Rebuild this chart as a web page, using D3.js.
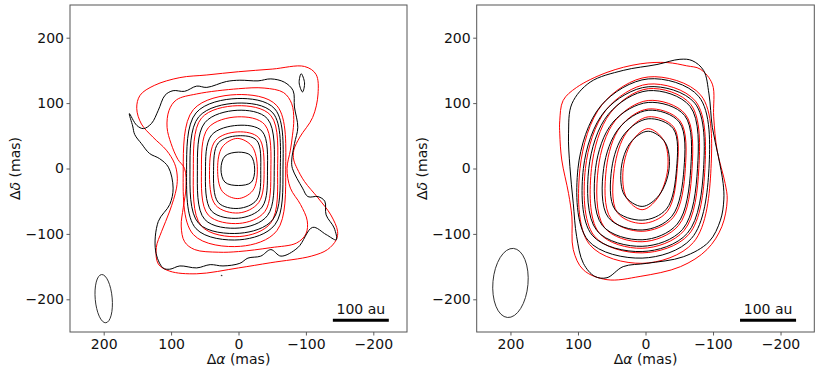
<!DOCTYPE html>
<html>
<head>
<meta charset="utf-8">
<script src="https://cdn.jsdelivr.net/npm/d3@7"></script>
<style>
  body { margin: 0; background: #fff; }
  svg { font-family: 'DejaVu Sans', sans-serif; }
</style>
</head>
<body>
<div id="chart"></div>
<script>
// axis ticks (mas)
const xTicks = [200, 100, 0, -100, -200]
const yTicks = [-200, -100, 0, 100, 200]

// ---- left panel: contours as [dRA, dDec] in mas ----
const leftBlack = [
  [[26,-1],[20,19],[0,25],[-18,20],[-24,-1],[-19,-21],[0,-26],[20,-21]],
  [[37,-3],[30,39],[1,50],[-27,43],[-33,-3],[-27,-48],[0,-61],[30,-52]],
  [[49,-4],[40,51],[1,66],[-35,57],[-43,-4],[-35,-59],[0,-76],[40,-65]],
  [[61,-3],[50,70],[2,89],[-43,76],[-53,-3],[-43,-72],[-1,-91],[50,-78]],
  [[72,-2],[59,79],[2,100],[-51,85],[-62,-2],[-51,-78],[-2,-99],[59,-84]],
  [[77,-2],[63,85],[2,107],[-54,91],[-66,-2],[-54,-86],[-2,-109],[63,-92]],
  [[-2,135],[18,133],[47,124],[62,126],[80,118],[97,119],[109,112],[119,89],[129,69],[141,61],[151,66],[162,84],
   [157,65],[154,52],[144,38],[132,23],[117,15],[104,2],[97,-30],[102,-55],[119,-81],[123,-126],[112,-152],[102,-154],
   [87,-149],[62,-152],[42,-147],[23,-149],[-2,-145],[-14,-137],[-33,-134],[-48,-124],[-63,-134],[-88,-121],
   [-110,-90],[-130,-101],[-145,-109],[-142,-91],[-130,-71],[-128,-50],[-118,-43],[-103,-43],[-95,-30],[-80,0],
   [-79,13],[-83,38],[-88,63],[-83,94],[-81,119],[-68,132],[-48,137],[-29,134]],
  [[-90,131],[-93,145],[-98,131],[-95,117]],
  [[25.5,-163.5],[25,-164.5],[24.5,-163.5]]
]
const leftRed = [
  [[31,0],[24,33],[2,46],[-20,34],[-28,-1],[-21,-34],[1,-46],[24,-35]],
  [[43,-3],[34,43],[1,56],[-30,47],[-38,-3],[-30,-52],[0,-68],[34,-56]],
  [[55,-3],[45,62],[1,79],[-39,67],[-48,-3],[-39,-66],[-1,-84],[45,-71]],
  [[67,-3],[55,77],[2,96],[-48,81],[-58,-3],[-48,-83],[-2,-104],[55,-88]],
  [[82,-2],[67,90],[3,113],[-57,96],[-70,-2],[-57,-95],[-3,-119],[67,-101]],
  [[80,0],[78,-30],[82,-60],[85,-88],[80,-112],[65,-124],[30,-128],[0,-127],[-48,-121],[-86,-114],[-100,-100],
   [-102,-80],[-92,-55],[-77,-30],[-72,0],[-77,28],[-80,50],[-82,75],[-79,99],[-67,116],[-38,123],[0,122],
   [62,114],[92,105],[103,89],[106,63],[100,38],[90,14]],
  [[0,148],[47,143],[87,139],[125,127],[146,112],[151,92],[144,68],[127,48],[107,28],[95,8],[91,-10],[92,-30],
   [102,-65],[114,-96],[122,-121],[119,-146],[102,-157],[62,-161],[0,-152],[-48,-144],[-108,-134],[-132,-124],
   [-145,-109],[-147,-96],[-137,-71],[-118,-45],[-98,-20],[-87,0],[-82,13],[-82,28],[-91,48],[-110,78],
   [-118,114],[-115,144],[-98,156],[-50,152]]
]

// ---- right panel ----
const rightBlack = [
  [[36,0],[22,40],[-4,57],[-29,40],[-35,0],[-20,-41],[5,-58],[31,-41]],
  [[50,0],[31,53],[-4,76],[-41,61],[-46,0],[-31,-62],[5,-79],[45,-63]],
  [[62,0],[39,62],[-4,89],[-50,71],[-57,0],[-39,-73],[5,-94],[55,-75]],
  [[74,0],[48,71],[-4,101],[-58,81],[-67,0],[-47,-85],[5,-109],[64,-87]],
  [[84,0],[55,83],[-4,119],[-66,95],[-77,0],[-55,-93],[5,-119],[72,-95]],
  [[92,0],[60,88],[-4,125],[-73,100],[-86,0],[-62,-99],[5,-127],[79,-102]],
  [[100,0],[66,96],[-4,137],[-79,110],[-94,0],[-68,-107],[5,-137],[85,-110]],
  [[114,53],[109,99],[82,132],[33,150],[-17,159],[-51,167],[-69,165],[-86,150],[-94,114],[-99,63],[-108,18],
   [-115,-23],[-116,-48],[-111,-79],[-94,-112],[-56,-135],[-2,-145],[33,-150],[57,-167],[75,-165],[92,-145],
   [102,-104],[107,-53],[112,3]]
]
const rightRed = [
  [[33,0],[19,43],[-4,61],[-27,43],[-33,0],[-18,-45],[5,-63],[28,-45]],
  [[46,0],[28,55],[-4,79],[-42,63],[-47,0],[-32,-66],[5,-84],[42,-67]],
  [[58,0],[37,64],[-4,91],[-51,73],[-59,0],[-41,-75],[5,-96],[51,-77]],
  [[70,0],[45,73],[-4,104],[-59,83],[-69,0],[-49,-87],[5,-112],[61,-90]],
  [[80,0],[52,85],[-4,122],[-67,98],[-79,0],[-57,-95],[5,-122],[69,-98]],
  [[89,0],[58,90],[-4,129],[-74,103],[-88,0],[-64,-101],[5,-129],[76,-103]],
  [[97,0],[64,98],[-4,140],[-82,112],[-97,0],[-71,-113],[5,-145],[83,-116]],
  [[127,73],[122,104],[102,124],[57,147],[8,160],[-32,162],[-61,157],[-81,152],[-99,129],[-101,79],[-106,28],
   [-118,-23],[-121,-48],[-113,-89],[-91,-124],[-52,-150],[8,-165],[57,-170],[92,-155],[107,-124],[109,-74],
   [114,-38],[124,13],[127,53]]
]

// beams: [dRA, dDec] centre, [semi-axis RA, semi-axis Dec] (mas), tilt (deg)
const beamCentre = [[200,-199],[200,-175]]
const beamAxes = [[12.6,37],[26,53]]
const beamTilt = [-5,5]

// scale bar: 100 au, from/to in mas, at Dec
const barRange = [-140,-223]
const barDec = -232
const barLabel = '100 au'

const W = 830, H = 372
const svg = d3.select('#chart').append('svg')
  .attr('width', W)
  .attr('height', H)

const y = d3.scaleLinear().domain([-250, 250]).range([332, 5])
const fmt = d => d < 0 ? '\u2212' + Math.abs(d) : String(d)

function panel(left, right, red, black, bi){
  const x = d3.scaleLinear().domain([250, -250]).range([left, right])
  const g = svg.append('g')

  const line = d3.line()
    .x(d => x(d[0]))
    .y(d => y(d[1]))
    .curve(d3.curveCatmullRomClosed)

  const clipId = 'clip' + bi
  svg.append('clipPath').attr('id', clipId)
    .append('rect')
    .attr('x', left).attr('y', 5)
    .attr('width', right - left).attr('height', 327)

  const plot = g.append('g').attr('clip-path', 'url(#' + clipId + ')')

  plot.selectAll('path.red')
    .data(red)
    .join('path')
      .attr('class', 'red')
      .attr('d', line)
      .attr('fill', 'none')
      .attr('stroke', '#ff0000')
      .attr('stroke-width', 1)

  plot.selectAll('path.black')
    .data(black)
    .join('path')
      .attr('class', 'black')
      .attr('d', line)
      .attr('fill', 'none')
      .attr('stroke', '#000')
      .attr('stroke-width', 1)

  // beam
  const c = beamCentre[bi], a = beamAxes[bi]
  plot.append('ellipse')
    .attr('cx', x(c[0]))
    .attr('cy', y(c[1]))
    .attr('rx', Math.abs(x(c[0] + a[0]) - x(c[0])))
    .attr('ry', Math.abs(y(c[1] + a[1]) - y(c[1])))
    .attr('transform', 'rotate(' + beamTilt[bi] + ',' + x(c[0]) + ',' + y(c[1]) + ')')
    .attr('fill', 'none')
    .attr('stroke', '#222')
    .attr('stroke-width', 0.9)

  // scale bar
  g.append('line')
    .attr('x1', x(barRange[0])).attr('x2', x(barRange[1]))
    .attr('y1', y(barDec)).attr('y2', y(barDec))
    .attr('stroke', '#000')
    .attr('stroke-width', 3)
  g.append('text')
    .attr('x', (x(barRange[0]) + x(barRange[1])) / 2)
    .attr('y', y(barDec) - 6)
    .attr('text-anchor', 'middle')
    .style('font-size', '14px')
    .attr('fill', '#111')
    .text(barLabel)

  // axes
  const xAxis = g.append('g')
    .attr('transform', 'translate(0,332)')
    .call(d3.axisBottom(x).tickValues(xTicks).tickFormat(fmt).tickSize(3.5).tickPadding(3.5))
  const yAxis = g.append('g')
    .attr('transform', 'translate(' + left + ',0)')
    .call(d3.axisLeft(y).tickValues(yTicks).tickFormat(fmt).tickSize(3.5).tickPadding(2.5))
  ;[xAxis, yAxis].forEach(ax => {
    ax.select('.domain').remove()
    ax.selectAll('line').attr('stroke', '#333').attr('stroke-width', 0.8)
    ax.selectAll('text').style('font-size', '14px').style('font-family', "'DejaVu Sans', sans-serif").attr('fill', '#111')
  })

  // frame
  g.append('rect')
    .attr('x', left).attr('y', 5)
    .attr('width', right - left).attr('height', 327)
    .attr('fill', 'none')
    .attr('stroke', '#555')
    .attr('stroke-width', 1)

  // labels
  const xl = g.append('text')
    .attr('x', x(0)).attr('y', 364)
    .attr('text-anchor', 'middle')
    .style('font-size', '14px')
    .attr('fill', '#111')
  xl.append('tspan').text('\u0394')
  xl.append('tspan').style('font-style', 'italic').text('\u03b1')
  xl.append('tspan').text(' (mas)')

  const yl = g.append('text')
    .attr('transform', 'translate(' + (left - 50) + ',' + y(0) + ') rotate(-90)')
    .attr('text-anchor', 'middle')
    .style('font-size', '14px')
    .attr('fill', '#111')
  yl.append('tspan').text('\u0394')
  yl.append('tspan').style('font-style', 'italic').text('\u03b4')
  yl.append('tspan').text(' (mas)')
}

panel(70, 407, leftRed, leftBlack, 0)
panel(476.7, 814.3, rightRed, rightBlack, 1)
</script>
</body>
</html>
